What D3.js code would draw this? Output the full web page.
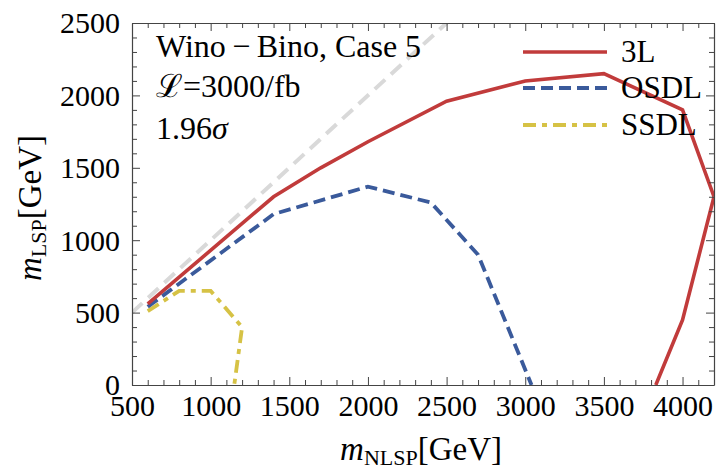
<!DOCTYPE html>
<html>
<head>
<meta charset="utf-8">
<script src="https://cdn.jsdelivr.net/npm/d3@7"></script>
<style>
  html, body { margin: 0; padding: 0; background: #fff; }
  svg { display: block; }
</style>
</head>
<body>
<svg id="chart" width="717" height="472"></svg>
<script>
// ---- data ----
const series = ["3L", "OSDL", "SSDL"];
const x3L   = [600, 1400, 1700, 2000, 2500, 3000, 3500, 4000, 4200, 4000, 3830];
const y3L   = [560, 1300, 1500, 1680, 1960, 2100, 2150, 1900, 1300, 450, 0];
const xOSDL = [600, 1400, 2000, 2400, 2700, 3040];
const yOSDL = [540, 1180, 1370, 1260, 900, 0];
const xSSDL = [600, 800, 1000, 1200, 1150];
const ySSDL = [510, 650, 650, 400, 0];
const xDiag = [500, 2500];
const yDiag = [500, 2500];
const xTicks = [500, 1000, 1500, 2000, 2500, 3000, 3500, 4000];
const yTicks = [0, 500, 1000, 1500, 2000, 2500];
const annotations = ["Wino\u2009\u2212\u2009Bino, Case 5", "\u2112=3000/fb", "1.96"];

(function () {
const FONT = '"Liberation Serif", "Times New Roman", Tinos, "DejaVu Serif"';
const svg = d3.select("#chart");
const L = 132, R = 714, T = 23, B = 385;
const x = d3.scaleLinear().domain([500, 4200]).range([L, R]);
const y = d3.scaleLinear().domain([0, 2500]).range([B, T]);

const styles = {
  "3L":   {color: "#c13b3b", width: 3.6, dash: null},
  "OSDL": {color: "#3a5a9b", width: 3.8, dash: "12,6"},
  "SSDL": {color: "#d6c245", width: 3.8, dash: "13,6,5,6"}
};

svg.append("defs").append("clipPath").attr("id", "clip")
  .append("rect").attr("x", L).attr("y", T).attr("width", R - L).attr("height", B - T);

const line = d3.line().x(d => x(d[0])).y(d => y(d[1]));
const g = svg.append("g").attr("clip-path", "url(#clip)");

g.append("path").datum(d3.zip(xDiag, yDiag)).attr("d", line)
  .attr("fill", "none").attr("stroke", "#d9d9d9").attr("stroke-width", 4)
  .attr("stroke-dasharray", "14,8");

const data = {
  "3L": d3.zip(x3L, y3L),
  "OSDL": d3.zip(xOSDL, yOSDL),
  "SSDL": d3.zip(xSSDL, ySSDL)
};
["SSDL", "OSDL", "3L"].forEach(k => {
  const s = styles[k];
  g.append("path").datum(data[k]).attr("d", line)
    .attr("fill", "none").attr("stroke", s.color).attr("stroke-width", s.width)
    .attr("stroke-linejoin", "miter")
    .attr("stroke-dasharray", s.dash);
});

// ---- axes ----
const axisColor = "#444";
const minorX = d3.range(500, 4201, 100).filter(v => v % 500 !== 0);
const minorY = d3.range(0, 2501, 100).filter(v => v % 500 !== 0);

function styleAxis(sel) {
  sel.select(".domain").attr("stroke", axisColor).attr("stroke-width", 1.2);
  sel.selectAll(".tick line").attr("stroke", axisColor).attr("stroke-width", 1);
  sel.selectAll(".tick text").style("font-family", FONT).attr("font-size", 30).attr("fill", "#000");
}
function minor(sel) {
  sel.select(".domain").remove();
  sel.selectAll(".tick line").attr("stroke", axisColor);
}

const axB = svg.append("g").attr("transform", `translate(0,${B})`)
  .call(d3.axisBottom(x).tickValues(xTicks).tickSize(-8).tickFormat(d3.format("d")).tickSizeOuter(0));
styleAxis(axB);
axB.selectAll(".tick text").attr("dy", 0).attr("y", 31);
svg.append("g").attr("transform", `translate(0,${B})`)
  .call(d3.axisBottom(x).tickValues(minorX).tickSize(-5).tickFormat("").tickSizeOuter(0)).call(minor);

const axT = svg.append("g").attr("transform", `translate(0,${T})`)
  .call(d3.axisTop(x).tickValues(xTicks).tickSize(-8).tickFormat("").tickSizeOuter(0));
styleAxis(axT);
svg.append("g").attr("transform", `translate(0,${T})`)
  .call(d3.axisTop(x).tickValues(minorX).tickSize(-5).tickFormat("").tickSizeOuter(0)).call(minor);

const axL = svg.append("g").attr("transform", `translate(${L},0)`)
  .call(d3.axisLeft(y).tickValues(yTicks).tickSize(-8).tickFormat(d3.format("d")).tickSizeOuter(0));
styleAxis(axL);
axL.selectAll(".tick text").attr("x", -12).attr("dy", "0.33em");
svg.append("g").attr("transform", `translate(${L},0)`)
  .call(d3.axisLeft(y).tickValues(minorY).tickSize(-5).tickFormat("").tickSizeOuter(0)).call(minor);

const axR = svg.append("g").attr("transform", `translate(${R},0)`)
  .call(d3.axisRight(y).tickValues(yTicks).tickSize(-8).tickFormat("").tickSizeOuter(0));
styleAxis(axR);
svg.append("g").attr("transform", `translate(${R},0)`)
  .call(d3.axisRight(y).tickValues(minorY).tickSize(-5).tickFormat("").tickSizeOuter(0)).call(minor);

// ---- axis labels ----
const xl = svg.append("text").attr("x", 421).attr("y", 460)
  .attr("text-anchor", "middle").attr("font-size", 33).style("font-family", FONT);
xl.append("tspan").attr("font-style", "italic").text("m");
xl.append("tspan").attr("font-size", 22).attr("dy", 5).text("NLSP");
xl.append("tspan").attr("dy", -5).text("[GeV]");

const yl = svg.append("text").attr("transform", `translate(41,208) rotate(-90)`)
  .attr("text-anchor", "middle").attr("font-size", 33).style("font-family", FONT);
yl.append("tspan").attr("font-style", "italic").text("m");
yl.append("tspan").attr("font-size", 22).attr("dy", 5).text("LSP");
yl.append("tspan").attr("dy", -5).text("[GeV]");

// ---- annotations ----
const annY = [57, 97, 139];
annotations.forEach((t, i) => {
  const tx = svg.append("text").attr("x", 156).attr("y", annY[i]).attr("font-size", 32).style("font-family", FONT);
  tx.append("tspan").text(t);
  if (i === 2) tx.append("tspan").attr("font-style", "italic").text("\u03c3");
});

// ---- legend ----
const legY = [52, 88, 125];
series.forEach((k, i) => {
  const s = styles[k];
  svg.append("line").attr("x1", 523).attr("x2", 607).attr("y1", legY[i]).attr("y2", legY[i])
    .attr("stroke", s.color).attr("stroke-width", s.width).attr("stroke-dasharray", s.dash);
  svg.append("text").attr("x", 621).attr("y", legY[i] + 10).attr("font-size", 31)
    .style("font-family", FONT).text(k);
});
})();
</script>
</body>
</html>
